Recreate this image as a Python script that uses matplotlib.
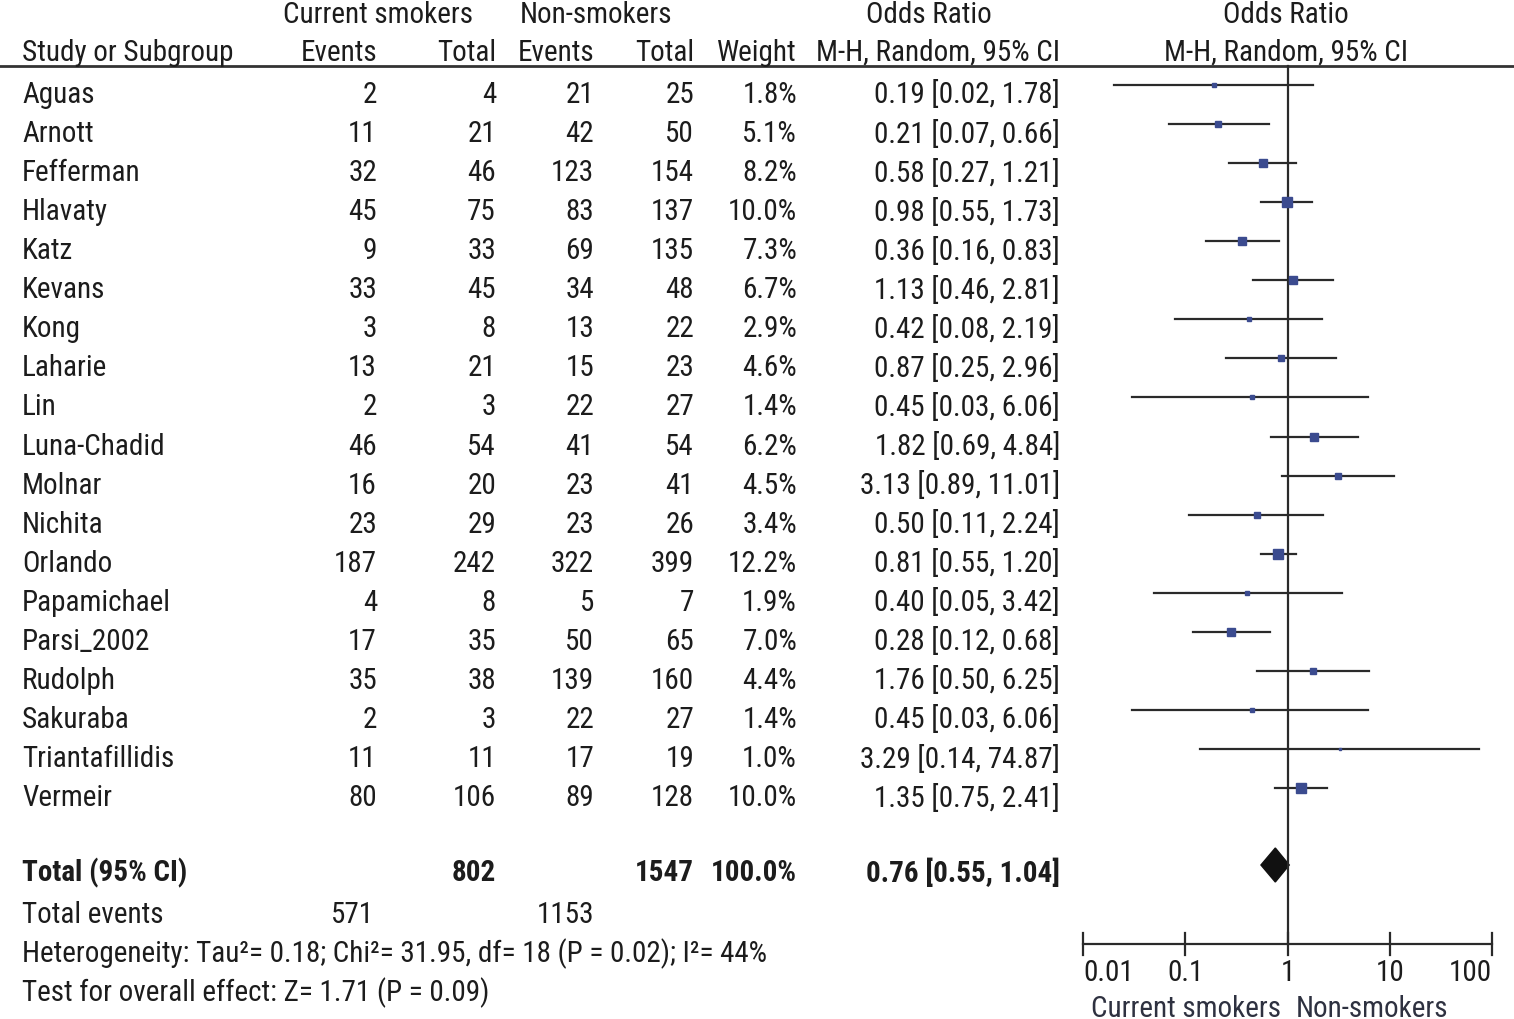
import numpy as np
import matplotlib
matplotlib.use('Agg')
import matplotlib.pyplot as plt

plt.rcParams['font.family'] = ['Roboto Condensed', 'Liberation Sans Narrow', 'DejaVu Sans']

# study data
studies = ['Aguas', 'Arnott', 'Fefferman', 'Hlavaty', 'Katz', 'Kevans', 'Kong',
           'Laharie', 'Lin', 'Luna-Chadid', 'Molnar', 'Nichita', 'Orlando',
           'Papamichael', 'Parsi_2002', 'Rudolph', 'Sakuraba', 'Triantafillidis',
           'Vermeir']
cs_events = [2, 11, 32, 45, 9, 33, 3, 13, 2, 46, 16, 23, 187, 4, 17, 35, 2, 11, 80]
cs_total = [4, 21, 46, 75, 33, 45, 8, 21, 3, 54, 20, 29, 242, 8, 35, 38, 3, 11, 106]
ns_events = [21, 42, 123, 83, 69, 34, 13, 15, 22, 41, 23, 23, 322, 5, 50, 139, 22, 17, 89]
ns_total = [25, 50, 154, 137, 135, 48, 22, 23, 27, 54, 41, 26, 399, 7, 65, 160, 27, 19, 128]
weights = [1.8, 5.1, 8.2, 10.0, 7.3, 6.7, 2.9, 4.6, 1.4, 6.2, 4.5, 3.4, 12.2, 1.9, 7.0,
           4.4, 1.4, 1.0, 10.0]
odds = [0.19, 0.21, 0.58, 0.98, 0.36, 1.13, 0.42, 0.87, 0.45, 1.82, 3.13, 0.50, 0.81,
        0.40, 0.28, 1.76, 0.45, 3.29, 1.35]
ci_low = [0.02, 0.07, 0.27, 0.55, 0.16, 0.46, 0.08, 0.25, 0.03, 0.69, 0.89, 0.11, 0.55,
          0.05, 0.12, 0.50, 0.03, 0.14, 0.75]
ci_high = [1.78, 0.66, 1.21, 1.73, 0.83, 2.81, 2.19, 2.96, 6.06, 4.84, 11.01, 2.24, 1.20,
           3.42, 0.68, 6.25, 6.06, 74.87, 2.41]

total_cs, total_ns = 802, 1547
events_cs, events_ns = 571, 1153
pooled_or, pooled_lo, pooled_hi = 0.76, 0.55, 1.04
axis_ticks = [0.01, 0.1, 1, 10, 100]
axis_labels = ['0.01', '0.1', '1', '10', '100']

W, H = 1514, 1020
fig = plt.figure(figsize=(W / 100, H / 100), dpi=100)
ax = fig.add_axes([0, 0, 1, 1])
ax.set_xlim(0, W)
ax.set_ylim(H, 0)
ax.axis('off')

txt = '#1c1c1c'
fs = 21

# headers
ax.text(378, 15, 'Current smokers', ha='center', va='center', fontsize=fs, color=txt)
ax.text(596, 15, 'Non-smokers', ha='center', va='center', fontsize=fs, color=txt)
ax.text(929, 15, 'Odds Ratio', ha='center', va='center', fontsize=fs, color=txt)
ax.text(1286, 15, 'Odds Ratio', ha='center', va='center', fontsize=fs, color=txt)
ax.text(22, 53, 'Study or Subgroup', ha='left', va='center', fontsize=fs, color=txt)
for x, s in [(377, 'Events'), (496, 'Total'), (594, 'Events'), (694, 'Total'), (797, 'Weight')]:
    ax.text(x, 53, s, ha='right', va='center', fontsize=fs, color=txt)
ax.text(1060, 53, 'M-H, Random, 95% CI', ha='right', va='center', fontsize=fs, color=txt)
ax.text(1286, 53, 'M-H, Random, 95% CI', ha='center', va='center', fontsize=fs, color=txt)
ax.plot([0, W], [67, 67], color='#333333', lw=2)

# study rows
row0, pitch = 95, 39.06
for i, name in enumerate(studies):
    y = row0 + i * pitch
    ax.text(22, y, name, ha='left', va='center', fontsize=fs, color=txt)
    ax.text(377, y, str(cs_events[i]), ha='right', va='center', fontsize=fs, color=txt)
    ax.text(496, y, str(cs_total[i]), ha='right', va='center', fontsize=fs, color=txt)
    ax.text(594, y, str(ns_events[i]), ha='right', va='center', fontsize=fs, color=txt)
    ax.text(694, y, str(ns_total[i]), ha='right', va='center', fontsize=fs, color=txt)
    ax.text(797, y, f'{weights[i]:.1f}%', ha='right', va='center', fontsize=fs, color=txt)
    ax.text(1060, y, f'{odds[i]:.2f} [{ci_low[i]:.2f}, {ci_high[i]:.2f}]',
            ha='right', va='center', fontsize=fs, color=txt)

# totals and footer
yt = 873
ax.text(22, yt, 'Total (95% CI)', ha='left', va='center', fontsize=fs, color=txt, weight='bold')
ax.text(496, yt, str(total_cs), ha='right', va='center', fontsize=fs, color=txt, weight='bold')
ax.text(694, yt, str(total_ns), ha='right', va='center', fontsize=fs, color=txt, weight='bold')
ax.text(797, yt, '100.0%', ha='right', va='center', fontsize=fs, color=txt, weight='bold')
ax.text(1060, yt, f'{pooled_or:.2f} [{pooled_lo:.2f}, {pooled_hi:.2f}]',
        ha='right', va='center', fontsize=fs, color=txt, weight='bold')
ax.text(22, 915, 'Total events', ha='left', va='center', fontsize=fs, color=txt)
ax.text(374, 915, str(events_cs), ha='right', va='center', fontsize=fs, color=txt)
ax.text(594, 915, str(events_ns), ha='right', va='center', fontsize=fs, color=txt)
ax.text(22, 954, 'Heterogeneity: Tau²= 0.18; Chi²= 31.95, df= 18 (P = 0.02); I²= 44%',
        ha='left', va='center', fontsize=fs, color=txt)
ax.text(22, 993, 'Test for overall effect: Z= 1.71 (P = 0.09)',
        ha='left', va='center', fontsize=fs, color=txt)

# forest panel on log scale
fx = fig.add_axes([1083 / W, 0, (1492 - 1083) / W, 1])
fx.set_xscale('log')
fx.set_xlim(0.01, 100)
fx.set_ylim(H, 0)
fx.axis('off')
fx.patch.set_alpha(0)

line_c = '#2a2a2a'
fx.plot([1, 1], [67, 945], color=line_c, lw=1.6, clip_on=False)
for i in range(len(studies)):
    y = row0 - 9 + i * pitch
    fx.plot([ci_low[i], ci_high[i]], [y, y], color=line_c, lw=1.6, clip_on=False)
    side = 2.9 * np.sqrt(weights[i]) * 0.72
    fx.plot(odds[i], y, marker='s', ms=side, color='#3b4b8f', mec='#3b4b8f', clip_on=False)

# pooled diamond
yd, hd = 866, 17
fx.fill([pooled_lo, pooled_or, pooled_hi, pooled_or],
        [yd, yd - hd, yd, yd + hd], color='#111111', clip_on=False)

# bottom axis
ya = 945
fx.plot([0.01, 100], [ya, ya], color=line_c, lw=1.6, clip_on=False)
for t, lab in zip(axis_ticks, axis_labels):
    fx.plot([t, t], [ya - 11, ya + 11], color=line_c, lw=1.6, clip_on=False)
    ha = 'left' if t == 0.01 else ('right' if t == 100 else 'center')
    fx.text(t, 973, lab, ha=ha, va='center', fontsize=fs, color=txt)
fx.text(0.86, 1009, 'Current smokers', ha='right', va='center', fontsize=fs, color='#2e3140')
fx.text(1.2, 1009, 'Non-smokers', ha='left', va='center', fontsize=fs, color='#2e3140')

fig.savefig('out.png', dpi=100)
